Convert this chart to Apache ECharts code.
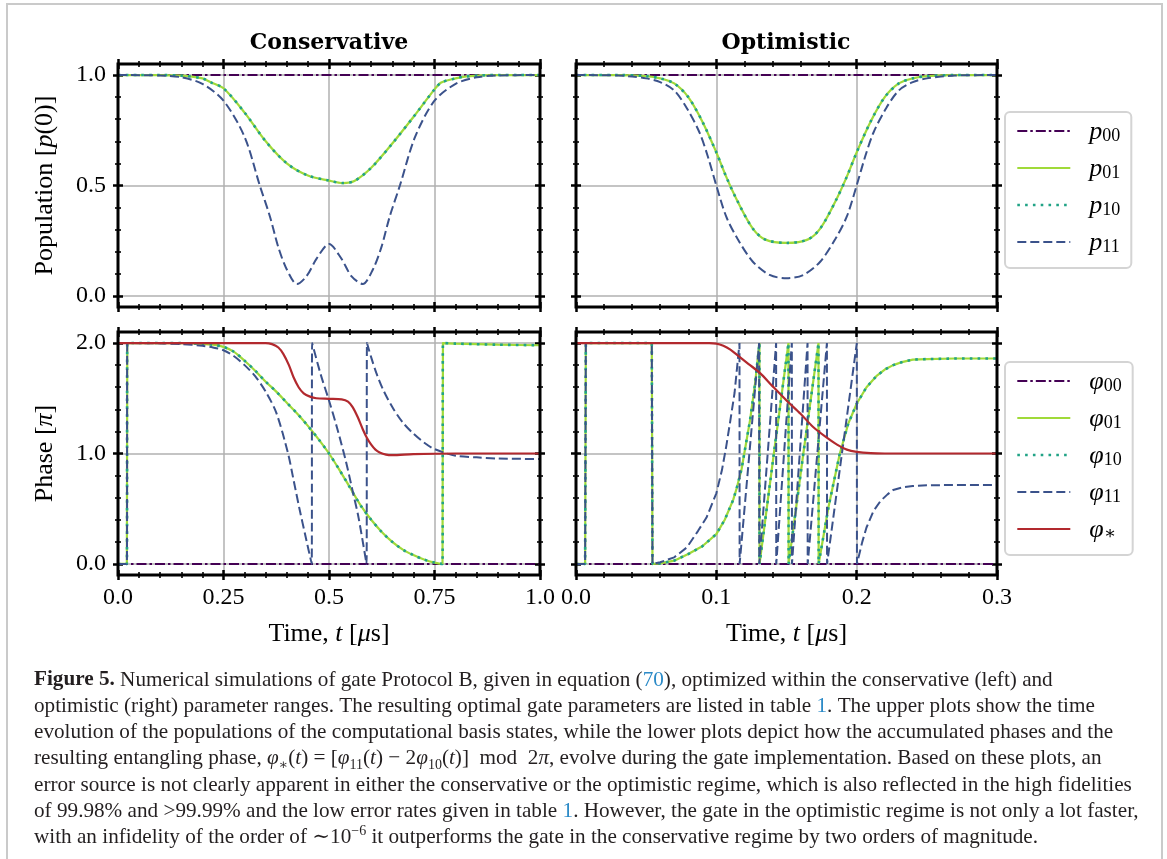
<!DOCTYPE html>
<html>
<head>
<meta charset="utf-8">
<script src="https://cdn.jsdelivr.net/npm/echarts/dist/echarts.min.js"></script>
<style>
  html, body { margin: 0; padding: 0; background: #fff; }
  #chart { width: 1167px; height: 859px; }
</style>
</head>
<body>
<div id="chart"></div>
<script>
// ---- data (time in microseconds) ----
// populations, conservative regime
const consPopT = [0, 0.05, 0.1, 0.15, 0.2, 0.22, 0.25, 0.3, 0.35, 0.4, 0.45, 0.5, 0.533, 0.56, 0.6, 0.65, 0.7, 0.75, 0.766, 0.8, 0.826, 0.9, 0.95, 1.0];
const consP01 = [1, 1, 1, 0.997, 0.985, 0.967, 0.94, 0.83, 0.7, 0.6, 0.545, 0.522, 0.511, 0.52, 0.58, 0.69, 0.81, 0.935, 0.966, 0.985, 0.994, 1, 1, 1];
const consP10 = consP01; // lies exactly on p01
const consP11T = [0, 0.1, 0.15, 0.2, 0.25, 0.3, 0.336, 0.36, 0.38, 0.4, 0.424, 0.447, 0.471, 0.5, 0.529, 0.553, 0.58, 0.604, 0.624, 0.644, 0.668, 0.704, 0.75, 0.8, 0.85, 0.9, 1.0];
const consP11 = [1, 0.998, 0.99, 0.96, 0.884, 0.72, 0.5, 0.36, 0.22, 0.12, 0.054, 0.09, 0.17, 0.235, 0.17, 0.09, 0.054, 0.12, 0.22, 0.36, 0.5, 0.72, 0.884, 0.96, 0.99, 0.998, 1];

// populations, optimistic regime
const optPopT = [0, 0.03, 0.05, 0.06, 0.07, 0.08, 0.09, 0.1, 0.107, 0.115, 0.126, 0.135, 0.15, 0.165, 0.174, 0.185, 0.193, 0.2, 0.21, 0.22, 0.23, 0.24, 0.25, 0.27, 0.3];
const optP01 = [1, 1, 0.995, 0.985, 0.962, 0.9, 0.79, 0.65, 0.54, 0.43, 0.305, 0.255, 0.24, 0.255, 0.305, 0.43, 0.54, 0.65, 0.79, 0.9, 0.962, 0.985, 0.995, 1, 1];
const optP10 = optP01;
const optP11T = [0, 0.03, 0.04, 0.05, 0.06, 0.07, 0.079, 0.088, 0.094, 0.1, 0.107, 0.115, 0.126, 0.138, 0.15, 0.162, 0.174, 0.185, 0.193, 0.2, 0.206, 0.212, 0.221, 0.23, 0.24, 0.25, 0.26, 0.27, 0.3];
const optP11 = [1, 0.998, 0.993, 0.985, 0.968, 0.93, 0.85, 0.74, 0.63, 0.5, 0.36, 0.26, 0.155, 0.095, 0.08, 0.095, 0.155, 0.26, 0.36, 0.5, 0.63, 0.74, 0.85, 0.93, 0.968, 0.985, 0.993, 0.998, 1];

// phases [pi], conservative regime
const consPhiT = [0, 0.021, 0.022, 0.1, 0.15, 0.2, 0.225, 0.25, 0.275, 0.3, 0.325, 0.35, 0.375, 0.4, 0.425, 0.45, 0.475, 0.5, 0.525, 0.55, 0.575, 0.6, 0.625, 0.65, 0.675, 0.7, 0.725, 0.75, 0.769, 0.77, 0.8, 0.9, 1.0];
const consPhi01 = [0, 0, 2, 2, 1.999, 1.993, 1.985, 1.965, 1.92, 1.84, 1.75, 1.65, 1.56, 1.46, 1.36, 1.25, 1.13, 1.0, 0.85, 0.69, 0.53, 0.4, 0.29, 0.2, 0.13, 0.08, 0.04, 0.012, 0, 2, 1.995, 1.985, 1.98];
const consPhi10 = consPhi01;
const consPhi11T = [0, 0.021, 0.022, 0.1, 0.15, 0.2, 0.225, 0.25, 0.275, 0.3, 0.325, 0.35, 0.375, 0.403, 0.415, 0.43, 0.445, 0.459, 0.46, 0.48, 0.5, 0.52, 0.54, 0.556, 0.57, 0.589, 0.59, 0.6, 0.613, 0.628, 0.65, 0.675, 0.7, 0.725, 0.75, 0.8, 0.85, 0.9, 1.0];
const consPhi11 = [0, 0, 2, 1.997, 1.99, 1.975, 1.96, 1.935, 1.88, 1.8, 1.7, 1.56, 1.37, 1.0, 0.78, 0.5, 0.24, 0, 2, 1.72, 1.48, 1.22, 0.93, 0.66, 0.42, 0, 2, 1.87, 1.72, 1.58, 1.42, 1.28, 1.18, 1.1, 1.04, 0.98, 0.965, 0.955, 0.95];
const consStarT = [0, 0.35, 0.365, 0.38, 0.392, 0.405, 0.416, 0.428, 0.44, 0.455, 0.47, 0.5, 0.53, 0.545, 0.556, 0.568, 0.58, 0.59, 0.6, 0.61, 0.62, 0.635, 0.65, 0.7, 0.8, 1.0];
const consStar = [2, 2, 1.99, 1.96, 1.9, 1.8, 1.69, 1.6, 1.545, 1.515, 1.5, 1.495, 1.49, 1.47, 1.42, 1.33, 1.22, 1.14, 1.08, 1.035, 1.01, 0.99, 0.985, 0.995, 1, 1];

// phases [pi], optimistic regime
const optPhiT = [0, 0.0065, 0.007, 0.054, 0.0545, 0.06, 0.07, 0.08, 0.09, 0.1, 0.106, 0.112, 0.1146, 0.118, 0.124, 0.1275, 0.1307, 0.1308, 0.141, 0.1514, 0.1515, 0.162, 0.1728, 0.1729, 0.18, 0.188, 0.194, 0.2, 0.207, 0.214, 0.22, 0.226, 0.233, 0.24, 0.25, 0.27, 0.3];
const optPhi01 = [0, 0, 2, 2, 0, 0.005, 0.03, 0.09, 0.16, 0.27, 0.4, 0.58, 0.69, 0.86, 1.3, 1.62, 2, 0, 1.0, 2, 0, 1.0, 2, 0, 0.52, 1.0, 1.27, 1.45, 1.6, 1.7, 1.76, 1.8, 1.83, 1.85, 1.855, 1.86, 1.86];
const optPhi10 = optPhi01;
const optPhi11T = [0, 0.0065, 0.007, 0.054, 0.0545, 0.06, 0.07, 0.079, 0.087, 0.093, 0.1, 0.104, 0.107, 0.11, 0.113, 0.1165, 0.1166, 0.1305, 0.1306, 0.1426, 0.1427, 0.1538, 0.1539, 0.165, 0.1651, 0.1788, 0.1789, 0.2001, 0.2002, 0.204, 0.207, 0.212, 0.217, 0.222, 0.226, 0.233, 0.24, 0.25, 0.27, 0.3];
const optPhi11 = [0, 0, 2, 2, 0, 0.015, 0.06, 0.15, 0.3, 0.42, 0.64, 0.85, 1.06, 1.3, 1.55, 2, 0, 2, 0, 2, 0, 2, 0, 2, 0, 2, 0, 2, 0, 0.2, 0.33, 0.48, 0.57, 0.63, 0.67, 0.695, 0.706, 0.712, 0.715, 0.715];
const optStarT = [0, 0.095, 0.1, 0.105, 0.11, 0.115, 0.123, 0.131, 0.14, 0.15, 0.16, 0.169, 0.178, 0.186, 0.193, 0.2, 0.21, 0.22, 0.3];
const optStar = [2, 2, 1.995, 1.975, 1.94, 1.89, 1.81, 1.73, 1.61, 1.48, 1.36, 1.24, 1.15, 1.08, 1.035, 1.015, 1.003, 1, 1];

const popNames = ['p00', 'p01', 'p10', 'p11'];
const phaseNames = ['φ00', 'φ01', 'φ10', 'φ11', 'φ*'];
const titles = ['Conservative', 'Optimistic'];

// ---- styling ----
const FONT = "'Liberation Serif', 'DejaVu Serif', serif";
const lineStyles = {
  '00': { color: '#440154', width: 2, type: [10, 3, 2.5, 3] },
  '01': { color: '#a0da39', width: 2.2, type: 'solid' },
  '10': { color: '#21a386', width: 2.6, type: [2.6, 5.2], cap: 'butt' },
  '11': { color: '#3b528b', width: 2, type: [9, 4] },
  '*': { color: '#b2292e', width: 2.2, type: 'solid' }
};

const PANEL_H = 243;
const panels = [
  { left: 118, top: 64, width: 422, xMax: 1, xStep: 0.25, yMax: 1, yStep: 0.5, pad: 0.05, xLabels: false, yLabels: true, yName: 'Population [{i|p}(0)]' },
  { left: 576, top: 64, width: 421, xMax: 0.3, xStep: 0.1, yMax: 1, yStep: 0.5, pad: 0.05, xLabels: false, yLabels: false },
  { left: 118, top: 332, width: 422, xMax: 1, xStep: 0.25, yMax: 2, yStep: 1, pad: 0.1, xLabels: true, yLabels: true, yName: 'Phase [{i|π}]' },
  { left: 576, top: 332, width: 421, xMax: 0.3, xStep: 0.1, yMax: 2, yStep: 1, pad: 0.1, xLabels: true, yLabels: false }
];

const nameStyle = {
  fontFamily: FONT, fontSize: 26, color: '#000', lineHeight: 28,
  rich: { i: { fontFamily: FONT, fontStyle: 'italic', fontSize: 26, color: '#000', lineHeight: 28 } }
};
const labelStyle = { fontFamily: FONT, fontSize: 24, color: '#000' };

function decoAxis(extra, inside) {
  return Object.assign({
    type: 'value',
    axisLine: { show: false, onZero: false },
    axisTick: { show: true, inside: inside, length: 5, lineStyle: { color: '#000', width: 2.5 } },
    minorTick: { show: true, splitNumber: 5, length: 3, lineStyle: { color: '#000', width: 1.6 } },
    axisLabel: { show: false },
    splitLine: { show: false },
    minorSplitLine: { show: false }
  }, extra);
}

const grids = [], xAxes = [], yAxes = [], axisIdx = [];
panels.forEach((p) => {
  const outer = grids.length;
  grids.push({ left: p.left, top: p.top, width: p.width, height: PANEL_H, show: true,
    borderColor: '#000', borderWidth: 3, backgroundColor: 'transparent', z: 5,
    containLabel: false, outerBoundsMode: 'none' });
  const inner = grids.length;
  const span = p.yMax + 2 * p.pad;
  grids.push({ left: p.left, top: p.top + PANEL_H * p.pad / span, width: p.width,
    height: PANEL_H * p.yMax / span, show: false, containLabel: false, outerBoundsMode: 'none' });

  const xFmt = p.xMax === 1 ? (v) => (v === 0 ? '0.0' : v === 1 ? '1.0' : String(v)) : (v) => v.toFixed(1);
  const xBase = { gridIndex: outer, min: 0, max: p.xMax, interval: p.xStep };
  xAxes.push(decoAxis(Object.assign({}, xBase, {
    position: 'bottom',
    axisLabel: Object.assign({ show: p.xLabels, margin: 11, formatter: xFmt, showMinLabel: true, showMaxLabel: true }, labelStyle),
    splitLine: { show: true, lineStyle: { color: '#b0b0b0', width: 1.5 } },
    name: p.xLabels ? 'Time, {i|t} [{i|μ}s]' : '',
    nameLocation: 'middle', nameGap: 45, nameMoveOverlap: false, nameTextStyle: nameStyle
  }), false));
  xAxes.push(decoAxis(Object.assign({}, xBase, { position: 'bottom' }), true));
  xAxes.push(decoAxis(Object.assign({}, xBase, { position: 'top' }), false));
  xAxes.push(decoAxis(Object.assign({}, xBase, { position: 'top' }), true));
  const hiddenX = xAxes.length;
  xAxes.push({ type: 'value', gridIndex: inner, min: 0, max: p.xMax, show: false });
  yAxes.push({ type: 'value', gridIndex: outer, min: 0, max: 1, show: false });

  const yBase = { gridIndex: inner, min: 0, max: p.yMax, interval: p.yStep };
  const mainY = yAxes.length;
  yAxes.push(decoAxis(Object.assign({}, yBase, {
    position: 'left',
    axisLabel: Object.assign({ show: p.yLabels, margin: 12, formatter: (v) => v.toFixed(1), showMinLabel: true, showMaxLabel: true }, labelStyle),
    splitLine: { show: true, lineStyle: { color: '#b0b0b0', width: 1.5 } },
    name: p.yName || '',
    nameLocation: 'middle', nameGap: 59, nameMoveOverlap: false, nameTextStyle: nameStyle
  }), false));
  yAxes.push(decoAxis(Object.assign({}, yBase, { position: 'left' }), true));
  yAxes.push(decoAxis(Object.assign({}, yBase, { position: 'right' }), false));
  yAxes.push(decoAxis(Object.assign({}, yBase, { position: 'right' }), true));
  axisIdx.push({ x: hiddenX, y: mainY });
});

const series = [];
function addLine(panel, name, key, t, v, smooth) {
  const ls = lineStyles[key];
  series.push({
    type: 'line', name: name,
    data: t.map((x, i) => [x, v[i]]),
    xAxisIndex: axisIdx[panel].x, yAxisIndex: axisIdx[panel].y,
    symbol: 'none', showSymbol: false, smooth: smooth ? 0.3 : false, clip: false,
    lineStyle: Object.assign({}, ls), itemStyle: { color: ls.color },
    emphasis: { disabled: true }, silent: true
  });
}
// top left
addLine(0, 'p00', '00', [0, 1], [1, 1], false);
addLine(0, 'p01', '01', consPopT, consP01, true);
addLine(0, 'p10', '10', consPopT, consP10, true);
addLine(0, 'p11', '11', consP11T, consP11, true);
// top right
addLine(1, 'p00', '00', [0, 0.3], [1, 1], false);
addLine(1, 'p01', '01', optPopT, optP01, true);
addLine(1, 'p10', '10', optPopT, optP10, true);
addLine(1, 'p11', '11', optP11T, optP11, true);
// bottom left
addLine(2, 'φ00', '00', [0, 1], [0, 0], false);
addLine(2, 'φ01', '01', consPhiT, consPhi01, true);
addLine(2, 'φ10', '10', consPhiT, consPhi10, true);
addLine(2, 'φ11', '11', consPhi11T, consPhi11, true);
addLine(2, 'φ*', '*', consStarT, consStar, true);
// bottom right
addLine(3, 'φ00', '00', [0, 0.3], [0, 0], false);
addLine(3, 'φ01', '01', optPhiT, optPhi01, false);
addLine(3, 'φ10', '10', optPhiT, optPhi10, false);
addLine(3, 'φ11', '11', optPhi11T, optPhi11, false);
addLine(3, 'φ*', '*', optStarT, optStar, true);

const legendBase = {
  orient: 'vertical', left: 1005, itemWidth: 53, itemHeight: 14, itemGap: 11,
  padding: [7, 11, 12, 11], borderColor: '#d4d4d4', borderWidth: 2, borderRadius: 5,
  backgroundColor: '#fff', selectedMode: false,
  itemStyle: { opacity: 0 },
  lineStyle: { width: 'inherit' },
  formatter: (n) => '{b|' + n[0] + '}{s|' + n.slice(1).replace('*', '∗') + '}',
  textStyle: {
    rich: {
      b: { fontFamily: FONT, fontStyle: 'italic', fontSize: 26, lineHeight: 28, verticalAlign: 'bottom', color: '#000', padding: [0, 0, 0, 14] },
      s: { fontFamily: FONT, fontSize: 18, lineHeight: 15, verticalAlign: 'bottom', color: '#000' }
    }
  }
};

// caption lines
const CAP = 21.2;
const capRich = {
  b: { fontFamily: FONT, fontSize: CAP, fontWeight: 'bold', fill: '#231f20' },
  l: { fontFamily: FONT, fontSize: CAP, fill: '#2b8ac7' },
  i: { fontFamily: FONT, fontSize: CAP, fontStyle: 'italic', fill: '#231f20' },
  d: { fontFamily: FONT, fontSize: 14, fill: '#231f20', verticalAlign: 'bottom', lineHeight: 15 },
  u: { fontFamily: FONT, fontSize: 14, fill: '#231f20', verticalAlign: 'top', lineHeight: 15 }
};
const captionLines = [
  '{b|Figure 5.} Numerical simulations of gate Protocol B, given in equation ({l|70}), optimized within the conservative (left) and',
  'optimistic (right) parameter ranges. The resulting optimal gate parameters are listed in table {l|1}. The upper plots show the time',
  'evolution of the populations of the computational basis states, while the lower plots depict how the accumulated phases and the',
  'resulting entangling phase, {i|φ}{d|∗}({i|t}) = [{i|φ}{d|11}({i|t}) − 2{i|φ}{d|10}({i|t})]\u2002mod\u20022{i|π}, evolve during the gate implementation. Based on these plots, an',
  'error source is not clearly apparent in either the conservative or the optimistic regime, which is also reflected in the high fidelities',
  'of 99.98% and >99.99% and the low error rates given in table {l|1}. However, the gate in the optimistic regime is not only a lot faster,',
  'with an infidelity of the order of ∼10{u|−6} it outperforms the gate in the conservative regime by two orders of magnitude.'
];
const graphics = [
  { type: 'rect', shape: { x: 7, y: 4, width: 1155, height: 900 }, style: { fill: 'none', stroke: '#cacaca', lineWidth: 2 }, silent: true }
];
captionLines.forEach((txt, i) => {
  graphics.push({
    type: 'text', x: 34, y: 680 + i * 26.3, silent: true,
    style: { text: txt, fontFamily: FONT, fontSize: CAP, fill: '#231f20', lineHeight: 26, verticalAlign: 'middle', rich: capRich }
  });
});

const chart = echarts.init(document.getElementById('chart'), null, { renderer: 'canvas' });
chart.setOption({
  animation: false,
  backgroundColor: '#fff',
  title: titles.map((t, i) => ({
    text: t, left: i === 0 ? 329 : 786, top: 30, textAlign: 'center', padding: 0,
    textStyle: { fontFamily: "'DejaVu Serif', serif", fontWeight: 'bold', fontSize: 22, lineHeight: 26, color: '#000' }
  })),
  legend: [
    Object.assign({}, legendBase, { top: 112, data: popNames }),
    Object.assign({}, legendBase, { top: 362, data: phaseNames })
  ],
  grid: grids,
  xAxis: xAxes,
  yAxis: yAxes,
  series: series,
  graphic: graphics
});
</script>
</body>
</html>
